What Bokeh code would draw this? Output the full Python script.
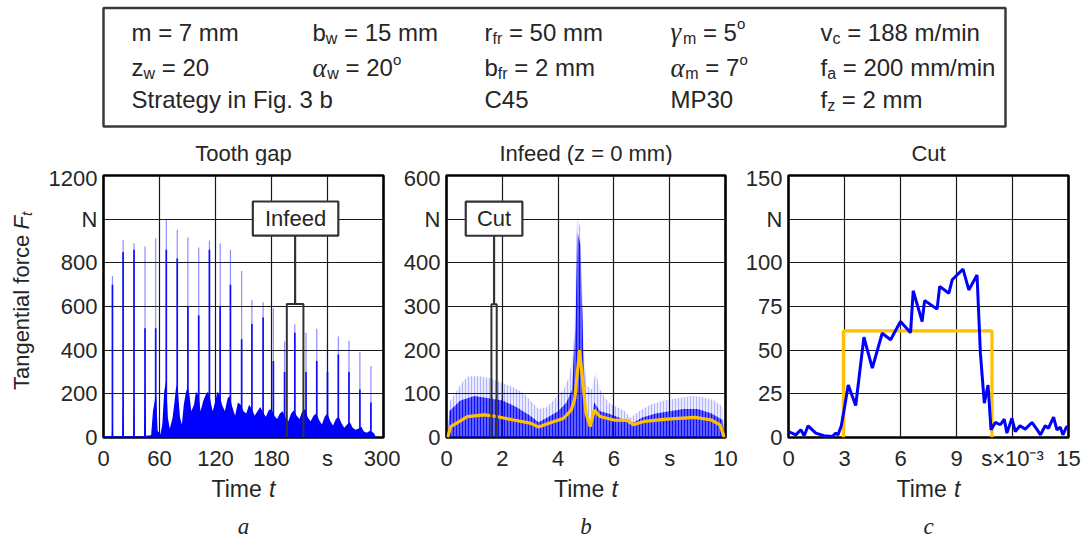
from bokeh.plotting import figure
from bokeh.layouts import row, column
from bokeh.models import Range1d, FixedTicker, PolyAnnotation
from bokeh.embed import file_html
from bokeh.resources import INLINE
from bokeh.core.properties import value

BLUE = "#0000ff"
GOLD = "#ffc000"
TXT = "#262626"
SANS = "Liberation Sans"
SERIF = "Liberation Serif"

# ---------------- data ----------------
# (a) Tooth gap: peaks of the single tooth entries
a_spike_t = [9.6, 21.0, 32.7, 44.5, 55.9, 67.3, 79.0, 90.4, 102.0, 113.5, 125.0, 136.0, 148.0,
             159.0, 171.0, 182.0, 194.0, 205.0, 217.0, 228.5, 240.0, 251.6, 263.0, 274.7, 286.5]
a_spike_peak = [740, 905, 890, 875, 913, 1000, 951, 916, 870, 902, 890, 860, 763,
                630, 620, 592, 440, 519, 480, 498, 440, 463, 443, 391, 328]
a_spike_dark = [700, 850, 860, 500, 500, 860, 820, 600, 560, 860, 600, 700, 450,
                520, 550, 350, 300, 480, 300, 350, 300, 380, 300, 220, 160]
a_bulk_pts = [(0, 6), (8.8, 6), (9.6, 90), (10.4, 6), (20.2, 6), (21, 190), (21.8, 6), (31.9, 6),
              (32.7, 200), (33.5, 6), (43.5, 6), (44.5, 260), (45.5, 8), (51, 10), (53, 120), (55, 170),
              (56.5, 190), (58, 30), (61, 15), (63, 60), (65, 210), (67, 260), (69, 90), (71, 40),
              (74, 90), (76, 160), (78, 240), (80, 200), (82, 90), (84, 60), (86, 150), (88, 200),
              (90, 230), (92, 200), (94, 120), (97, 150), (99, 210), (102, 190), (104, 120), (107, 170),
              (110, 200), (112, 210), (114, 180), (117, 120), (120, 170), (122, 210), (124, 200),
              (127, 150), (130, 120), (133, 180), (135, 190), (138, 140), (141, 100), (144, 160),
              (147, 150), (150, 120), (153, 110), (156, 150), (159, 130), (162, 100), (165, 120),
              (168, 140), (171, 115), (174, 95), (177, 125), (180, 130), (183, 100), (186, 85),
              (189, 110), (192, 120), (195, 90), (198, 75), (201, 110), (204, 125), (207, 100),
              (210, 85), (213, 120), (216, 130), (219, 90), (222, 75), (225, 100), (228, 110),
              (231, 80), (234, 60), (237, 95), (240, 110), (243, 75), (246, 55), (249, 85), (252, 95),
              (255, 65), (258, 45), (261, 60), (264, 70), (267, 45), (270, 35), (273, 40), (276, 50),
              (279, 28), (282, 22), (285, 30), (288, 25), (290, 18), (292, 0)]
a_bulk_t = [p[0] for p in a_bulk_pts]
a_bulk_v = [p[1] for p in a_bulk_pts]

# (b) Infeed: envelope of the single cuts and the mean value
b_light_pts = [(0.05, 0), (0.1, 80), (0.3, 100), (0.6, 130), (0.8, 140), (1.2, 140), (1.6, 135),
               (2.0, 125), (2.4, 115), (2.8, 100), (3.0, 85), (3.3, 65), (3.6, 70), (3.9, 90),
               (4.2, 110), (4.4, 140), (4.55, 200), (4.68, 505), (4.8, 480), (4.9, 250), (5.0, 120),
               (5.2, 110), (5.35, 150), (5.5, 110), (5.8, 80), (6.1, 70), (6.4, 60), (6.6, 45),
               (6.9, 60), (7.3, 75), (7.8, 85), (8.3, 90), (8.8, 95), (9.2, 92), (9.6, 85),
               (9.9, 70), (9.95, 0)]
b_dense_pts = [(0.05, 0), (0.1, 60), (0.5, 85), (1.0, 95), (1.5, 90), (2.0, 85), (2.5, 70),
               (3.0, 50), (3.3, 35), (3.6, 45), (4.0, 60), (4.3, 80), (4.5, 110), (4.62, 250),
               (4.7, 470), (4.8, 440), (4.9, 200), (5.0, 60), (5.15, 30), (5.3, 80), (5.5, 60),
               (5.8, 55), (6.2, 45), (6.6, 30), (7.0, 45), (7.5, 55), (8.0, 60), (8.5, 65),
               (9.0, 65), (9.5, 55), (9.9, 40), (9.95, 0)]
b_mean_pts = [(0.04, 0), (0.15, 25), (0.75, 48), (1.35, 52), (1.8, 48), (2.4, 40), (3.0, 33),
              (3.3, 24), (3.7, 33), (4.2, 44), (4.47, 63), (4.6, 90), (4.77, 200), (5.0, 56),
              (5.15, 25), (5.3, 63), (5.5, 48), (6.0, 40), (6.5, 39), (6.7, 29), (7.1, 37),
              (7.9, 42), (8.9, 46), (9.5, 40), (9.8, 29), (9.96, 0)]

# (c) Cut: single cut signal (time in 1e-3 s) and its mean
c_pts = [(0, 3.4), (0.39, 1.5), (0.66, 4.4), (0.84, 1.0), (1.05, 6.7), (1.46, 2.5), (1.9, 1.0),
         (2.35, 0.6), (2.53, 2.5), (2.65, 1.5), (2.83, 6.7), (3.01, 17.7), (3.2, 30), (3.6, 18.3),
         (4.04, 57.4), (4.49, 39.7), (5.02, 59.7), (5.47, 56), (6.0, 66.4), (6.54, 60), (6.68, 84),
         (7.16, 66.4), (7.29, 78.4), (7.96, 73.5), (8.1, 86.5), (8.59, 82.6), (8.77, 90.3),
         (9.35, 96.4), (9.66, 84.5), (10.1, 93), (10.28, 48.3), (10.49, 19.7), (10.69, 30),
         (10.85, 4.4), (11.08, 8.6), (11.35, 7.3), (11.56, 10.5), (11.7, 2.5), (11.97, 11),
         (12.15, 3.4), (12.4, 6.7), (12.68, 4.8), (13.04, 8.6), (13.3, 4.8), (13.5, 1.5),
         (13.75, 6.7), (13.93, 5.3), (14.2, 11.6), (14.38, 4.4), (14.56, 5.9), (14.7, 1.5),
         (14.9, 6.3), (15, 5.5)]
c_mean_t = [2.94, 2.94, 10.9, 10.9]
c_mean_v = [0, 61, 61, 0]

# annotation boxes (data units)
a_zoom_box = (196.4, 214.2, -25, 611)
a_label = ("Infeed", 160.0, 251.6, 925, 1081)
b_zoom_box = (1.61, 1.80, -15, 305)
b_label = ("Cut", 0.69, 2.72, 462, 540)

titles = ["Tooth gap", "Infeed (z = 0 mm)", "Cut"]
panel_letters = ["a", "b", "c"]
a_xticks = [0, 60, 120, 180, 240, 300]
a_yticks = [0, 200, 400, 600, 800, 1000, 1200]
b_xticks = [0, 2, 4, 6, 8, 10]
b_yticks = [0, 100, 200, 300, 400, 500, 600]
c_xticks = [0, 3, 6, 9, 12, 15]
c_yticks = [0, 25, 50, 75, 100, 125, 150]

FS = "22px"
TOP = 165      # page y where the plot row starts
FRAME_H = 262
BT, BB = 10, 38


def panel(xr, yr, xticks, yticks, xover, yover, bl, br, fw):
    p = figure(frame_width=fw, frame_height=FRAME_H, x_range=Range1d(*xr), y_range=Range1d(*yr),
               output_backend="svg", toolbar_location=None,
               min_border_left=bl, min_border_right=br, min_border_top=BT, min_border_bottom=BB)
    p.xaxis.ticker = FixedTicker(ticks=xticks)
    p.yaxis.ticker = FixedTicker(ticks=yticks)
    p.xaxis.major_label_overrides = xover
    p.yaxis.major_label_overrides = yover
    for ax in (p.xaxis, p.yaxis):
        ax.axis_line_color = None
        ax.major_tick_line_color = None
        ax.minor_tick_line_color = None
        ax.major_tick_out = 0
        ax.major_tick_in = 0
        ax.minor_tick_out = 0
        ax.minor_tick_in = 0
        ax.major_label_text_font = SANS
        ax.major_label_text_font_size = FS
        ax.major_label_text_color = TXT
    p.xaxis.major_label_standoff = 8
    p.yaxis.major_label_standoff = 6
    p.grid.grid_line_color = "#1a1a1a"
    p.grid.grid_line_width = 1.2
    p.outline_line_color = "black"
    p.outline_line_width = 2.6
    p.background_fill_color = "white"
    p.border_fill_color = "white"
    return p


def add_callout(p, zoom_box, label):
    x0, x1, y0, y1 = zoom_box
    p.add_layout(PolyAnnotation(xs=[x0, x1, x1, x0], ys=[y0, y0, y1, y1], fill_color=None,
                                fill_alpha=0, line_color="#333333", line_alpha=1, line_width=2,
                                level="overlay"))
    txt, lx0, lx1, ly0, ly1 = label
    xm = (x0 + x1) / 2
    p.segment(x0=[xm], y0=[y1], x1=[xm], y1=[ly0], line_color="#333333", line_width=2.2)
    p.quad(left=[lx0], right=[lx1], bottom=[ly0], top=[ly1], fill_color="white",
           line_color="#333333", line_width=2.2)
    p.text(x=[(lx0 + lx1) / 2], y=[(ly0 + ly1) / 2], text=[txt], text_align="center",
           text_baseline="middle", text_font=value(SANS), text_font_size=FS, text_color=TXT)


# ---- panel a
pa = panel((0, 300), (0, 1200), a_xticks, a_yticks, {240: "s"}, {1000: "N"}, 58, 17, 280)
pa.varea(x=a_bulk_t, y1=0, y2=a_bulk_v, fill_color=BLUE, fill_alpha=1.0)
pa.segment(x0=a_spike_t, y0=0, x1=a_spike_t, y1=a_spike_peak, line_color=BLUE, line_width=1.2,
           line_alpha=0.45)
pa.segment(x0=a_spike_t, y0=0, x1=a_spike_t, y1=a_spike_dark, line_color=BLUE, line_width=1.7,
           line_alpha=0.9)
add_callout(pa, a_zoom_box, a_label)

# ---- panel b
pb = panel((0, 10), (0, 600), b_xticks, b_yticks, {8: "s"}, {500: "N"}, 46, 17, 279)
pb.varea(x=[p[0] for p in b_light_pts], y1=0, y2=[p[1] for p in b_light_pts], fill_color=BLUE,
         fill_alpha=0.08, hatch_pattern="|", hatch_color=BLUE, hatch_alpha=0.3, hatch_scale=3,
         hatch_weight=0.8)
pb.varea(x=[p[0] for p in b_dense_pts], y1=0, y2=[p[1] for p in b_dense_pts], fill_color=BLUE,
         fill_alpha=0.6, hatch_pattern="|", hatch_color=BLUE, hatch_alpha=0.8, hatch_scale=3,
         hatch_weight=1)
pb.line([p[0] for p in b_mean_pts], [p[1] for p in b_mean_pts], line_color=GOLD, line_width=3.2)
add_callout(pb, b_zoom_box, b_label)

# ---- panel c
pc = panel((0, 15), (0, 150), c_xticks, c_yticks, {12: "s\u00d710\u207b\u00b3"}, {125: "N"},
           46, 17, 280)
pc.line(c_mean_t, c_mean_v, line_color=GOLD, line_width=3.2)
pc.line([p[0] for p in c_pts], [p[1] for p in c_pts], line_color=BLUE, line_width=3)

# ---- text helpers (Arial / Liberation Sans advance widths in em)
W = {' ': .278, '=': .584, 'm': .833, 'b': .556, 'w': .722, 'r': .333, 'f': .278, 'v': .5,
     'c': .5, 'z': .5, 'a': .556, '/': .278, 'i': .222, 'n': .556, 'M': .833, 'P': .667,
     'C': .722, 'S': .667, 't': .278, 'e': .556, 'g': .556, 'y': .5, 'F': .611, '.': .278,
     'o': .556, 'T': .611, 'l': .222, 'h': .556, 'p': .556, 's': .5, 'x': .5, '\u03b3': .46,
     '\u03b1': .55}
for d in "0123456789":
    W[d] = .556


def tw(s, px):
    return sum(W.get(ch, .556) for ch in s) * px


HF = 24
KINDS = {
    "n": dict(size=HF, dy=0, font=SANS, style="normal"),
    "s": dict(size=16, dy=6, font=SANS, style="normal"),
    "p": dict(size=15, dy=-8.5, font=SANS, style="normal"),
    "g": dict(size=27, dy=0, font=SERIF, style="italic"),
}


def rich(fig, x, mid, pieces):
    for txt, k in pieces:
        kd = KINDS[k]
        stripped = txt.lstrip(" ")
        x += tw(txt[:len(txt) - len(stripped)], kd["size"])
        fig.text(x=[x], y=[-(mid + kd["dy"])], text=[stripped], text_align="left",
                 text_baseline="middle", text_font=value(kd["font"]),
                 text_font_size="%dpx" % kd["size"], text_font_style=kd["style"], text_color=TXT)
        x += tw(stripped, kd["size"])


def blank(width, height, xr, yr):
    f = figure(width=width, height=height, x_range=Range1d(*xr), y_range=Range1d(*yr),
               output_backend="svg", toolbar_location=None, x_axis_location=None,
               y_axis_location=None, min_border=0)
    f.grid.visible = False
    f.outline_line_color = None
    return f


# ---- header (page coordinates: x -> x, page y -> -y)
hdr = blank(1085, TOP, (0, 1085), (-TOP, 0))
hdr.quad(left=[103], right=[1005], top=[-7.5], bottom=[-126], fill_color=None,
         line_color="#3a3a3a", line_width=2.5)
R1, R2, R3 = 31.5, 67, 99
C1, C2, C3, C4, C5 = 131, 312, 484, 670, 820
rich(hdr, C1, R1, [("m = 7 mm", "n")])
rich(hdr, C2, R1, [("b", "n"), ("w", "s"), (" = 15 mm", "n")])
rich(hdr, C3, R1, [("r", "n"), ("fr", "s"), (" = 50 mm", "n")])
rich(hdr, C4, R1, [("\u03b3", "g"), ("m", "s"), (" = 5", "n"), ("o", "p")])
rich(hdr, C5, R1, [("v", "n"), ("c", "s"), (" = 188 m/min", "n")])
rich(hdr, C1, R2, [("z", "n"), ("w", "s"), (" = 20", "n")])
rich(hdr, C2, R2, [("\u03b1", "g"), ("w", "s"), (" = 20", "n"), ("o", "p")])
rich(hdr, C3, R2, [("b", "n"), ("fr", "s"), (" = 2 mm", "n")])
rich(hdr, C4, R2, [("\u03b1", "g"), ("m", "s"), (" = 7", "n"), ("o", "p")])
rich(hdr, C5, R2, [("f", "n"), ("a", "s"), (" = 200 mm/min", "n")])
rich(hdr, C1, R3, [("Strategy in Fig. 3 b", "n")])
rich(hdr, C3, R3, [("C45", "n")])
rich(hdr, C4, R3, [("MP30", "n")])
rich(hdr, C5, R3, [("f", "n"), ("z", "s"), (" = 2 mm", "n")])

centers = [243, 585.5, 928]
hdr.text(x=centers, y=[-153] * 3, text=titles, text_align="center", text_baseline="middle",
         text_font=value(SANS), text_font_size=FS, text_color=TXT)

# ---- y label (rotated, reads bottom to top); centre positions on the page
row_h = BT + FRAME_H + BB
ylab = blank(45, row_h, (0, 45), (-(TOP + row_h), -TOP))
yl_parts = [("Tangential force", "normal", 22, 0, 327.0),
            ("F", "italic", 22, 0, 221.0),
            ("t", "italic", 15, 5, 210.5)]
for txt, style, size, dx, yc in yl_parts:
    ylab.text(x=[21 + dx], y=[-yc], text=[txt], angle=1.5708, text_align="center",
              text_baseline="middle", text_font=value(SANS), text_font_size="%dpx" % size,
              text_font_style=style, text_color=TXT)

# ---- footer
FTOP = TOP + row_h
ftr = blank(1085, 540 - FTOP, (0, 1085), (-540, -FTOP))
for cx, letter in zip(centers, panel_letters):
    wtot = tw("Time ", 23) + tw("t", 23)
    x0 = cx - wtot / 2
    ftr.text(x=[x0], y=[-488.5], text=["Time"], text_align="left", text_baseline="middle",
             text_font=value(SANS), text_font_size="23px", text_color=TXT)
    ftr.text(x=[x0 + tw("Time ", 23)], y=[-488.5], text=["t"], text_align="left",
             text_baseline="middle", text_font=value(SANS), text_font_size="23px",
             text_font_style="italic", text_color=TXT)
    ftr.text(x=[cx], y=[-526], text=[letter], text_align="center", text_baseline="middle",
             text_font=value(SERIF), text_font_size="23px", text_font_style="italic",
             text_color=TXT)

layout = column(hdr, row(ylab, pa, pb, pc, spacing=0), ftr, spacing=0)
open("out.html", "w").write(file_html(layout, INLINE))
